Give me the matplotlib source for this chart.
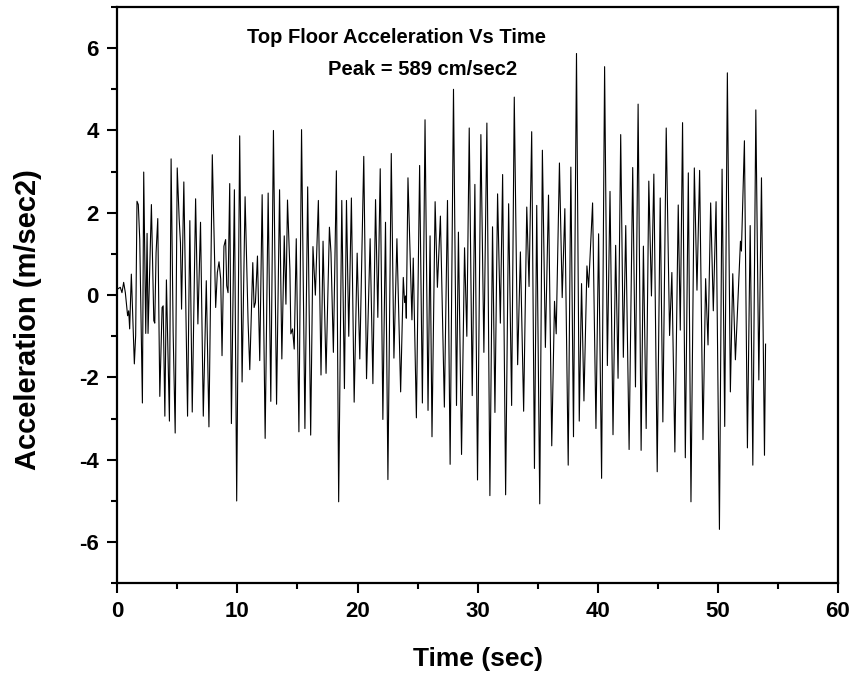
""" Top floor acceleration time history, redrawn from the reference chart.
"""
import matplotlib
matplotlib.use("Agg")
import matplotlib.pyplot as plt
from matplotlib.ticker import MultipleLocator

# turning points of the record (time in sec, acceleration in m/sec2)
time_sec = [
    0.03, 0.25, 0.39, 0.53, 0.67, 0.86, 0.95, 1.03, 1.17, 1.42, 1.53, 1.64, 1.75, 1.87,
    2.09, 2.20, 2.37, 2.48, 2.56, 2.70, 2.84, 3.04, 3.12, 3.23, 3.37, 3.54, 3.73, 3.82,
    3.96, 4.09, 4.34, 4.48, 4.65, 4.82, 4.99, 5.15, 5.26, 5.35, 5.54, 5.85, 6.04, 6.24,
    6.52, 6.71, 6.93, 7.16, 7.41, 7.63, 7.91, 8.19, 8.33, 8.47, 8.61, 8.72, 8.88, 9.02,
    9.11, 9.22, 9.36, 9.50, 9.75, 9.94, 10.19,
    10.39, 10.64, 10.89, 11.03, 11.28, 11.39, 11.50, 11.67, 11.86, 12.06, 12.31, 12.56,
    12.78, 13.00, 13.26, 13.51, 13.70, 13.90, 14.04, 14.17, 14.37, 14.45, 14.59, 14.73,
    14.90, 15.12, 15.34, 15.62, 15.85, 16.10, 16.29, 16.49, 16.74, 16.96, 17.13, 17.38,
    17.66, 17.79, 17.99, 18.24, 18.43, 18.69, 18.91, 19.08, 19.27, 19.49, 19.72, 19.97,
    20.19,
    20.52, 20.75, 21.05, 21.28, 21.50, 21.69, 21.89, 22.11, 22.33, 22.53, 22.81, 23.03,
    23.28, 23.59, 23.81, 23.92, 24.00, 24.06, 24.20, 24.39, 24.53, 24.64, 24.90, 25.17,
    25.40, 25.62, 25.87, 26.04, 26.20, 26.46, 26.65, 26.90, 27.23, 27.49, 27.71, 27.99,
    28.24, 28.40, 28.66, 28.91, 29.10, 29.30, 29.55, 29.77, 29.99, 30.27,
    30.52, 30.77, 31.02, 31.24, 31.44, 31.66, 31.89, 32.08, 32.33, 32.58, 32.83, 33.05,
    33.33, 33.56, 33.83, 34.09, 34.28, 34.50, 34.73, 34.92, 35.17, 35.39, 35.64, 35.90,
    36.17, 36.40, 36.54, 36.81, 37.04, 37.26, 37.54, 37.76, 37.98, 38.23, 38.46, 38.65,
    38.85, 39.10, 39.24, 39.57, 39.85, 40.07, 40.32,
    40.57, 40.80, 41.02, 41.27, 41.49, 41.69, 41.91, 42.13, 42.33, 42.61, 42.91, 43.14,
    43.36, 43.61, 43.80, 44.03, 44.25, 44.47, 44.67, 44.95, 45.20, 45.42, 45.70, 45.98,
    46.17, 46.42, 46.70, 46.87, 47.06, 47.29, 47.54, 47.76, 48.04, 48.26, 48.48, 48.76,
    48.98, 49.18, 49.40, 49.62, 49.85, 50.13, 50.35,
    50.57, 50.79, 51.04, 51.24, 51.46, 51.88, 51.96, 52.21, 52.46, 52.69, 52.91, 53.16,
    53.41, 53.63, 53.88, 53.97,
]
accel = [
    0.15, 0.19, 0.06, 0.31, 0.06, -0.50, -0.38, -0.82, 0.51, -1.67, -0.98, 2.28, 2.20, 1.35,
    -2.62, 2.99, -0.93, 1.50, -0.93, 0.63, 2.20, -0.62, -0.68, 1.03, 1.86, -2.46, -0.30, -0.26,
    -2.94, 0.37, -3.06, 3.31, -0.90, -3.35, 3.09, 1.86, 1.27, -0.34, 2.75, -2.94, 1.81, -2.84,
    2.34, -0.70, 1.77, -2.94, 0.35, -3.20, 3.41, -0.30, 0.55, 0.81, 0.39, -1.47, 1.19, 1.35,
    0.23, 0.06, 2.71, -3.12, 2.56, -5.00, 3.87,
    -2.11, 2.39, -0.66, -1.81, 0.79, -0.30, -0.18, 0.95, -1.59, 2.44, -3.48, 2.48,
    -2.58, 4.00, -2.65, 2.56, -1.55, 1.44, -0.22, 2.31, 0.63, -0.94, -0.82, -1.31,
    1.37, -3.32, 4.02, -3.24, 2.63, -3.40, 1.18, 0.00, 2.30, -1.94, 1.31, -1.90,
    1.65, 1.03, -1.39, 3.02, -5.02, 2.30, -2.27, 2.30, -1.00, 2.36, -2.60, 1.02,
    -1.55,
    3.37, -2.03, 1.37, -2.15, 2.32, -0.54, 3.07, -3.02, 1.77, -4.48, 3.44, -1.53,
    1.37, -2.35, 0.43, -0.18, -0.02, -0.56, 2.85, 0.87, -0.60, 0.90, -2.98, 3.15,
    -2.62, 4.26, -2.80, 1.44, -3.44, 2.27, 0.19, 1.92, -2.72, 2.30, -4.11, 5.00,
    -2.68, 1.53, -3.87, 1.15, -1.00, 4.06, -2.44, 2.69, -4.49, 3.90,
    -1.39, 4.18, -4.87, 1.66, -2.85, 2.46, -0.68, 2.93, -4.85, 2.22, -2.68, 4.81,
    -1.69, 1.05, -2.82, 2.14, 0.21, 3.97, -4.21, 2.18, -5.07, 3.52, -1.27, 2.43,
    -3.66, -0.15, -0.94, 3.21, -0.06, 2.10, -4.13, 3.11, -3.44, 5.87, -3.06, 0.28,
    -2.57, 0.71, 0.19, 2.24, -3.24, 1.49, -4.45,
    5.55, -1.71, 2.52, -3.39, 1.21, -2.02, 3.90, -1.51, 1.69, -3.75, 3.10, -2.23,
    4.64, -3.77, 1.19, -3.24, 2.77, -0.02, 2.94, -4.29, 2.36, -3.08, 4.06, -0.98,
    0.55, -3.81, 2.19, -0.85, 4.19, -3.95, 2.97, -5.02, 3.09, 0.12, 3.03, -3.51,
    0.40, -1.21, 2.24, -0.38, 2.27, -5.69, 3.06,
    -3.19, 5.40, -2.35, 0.52, -1.57, 1.31, 1.07, 3.75, -3.71, 1.69, -4.13, 4.50,
    -2.06, 2.85, -3.89, -1.19,
]

title_lines = ["Top Floor Acceleration Vs Time", "Peak = 589 cm/sec2"]

plt.rcParams["font.family"] = ["Liberation Sans", "DejaVu Sans"]
plt.rcParams["font.weight"] = "bold"
plt.rcParams["axes.unicode_minus"] = False  # plain hyphen like the original

fig = plt.figure(figsize=(8.53, 6.77), dpi=100)
ax = fig.add_axes([0.1375, 0.1384, 0.8449, 0.8513])

ax.plot(time_sec, accel, color="black", linewidth=0.8)

ax.set_xlim(0, 60)
ax.set_ylim(-7, 7)
ax.xaxis.set_major_locator(MultipleLocator(10))
ax.xaxis.set_minor_locator(MultipleLocator(5))
ax.yaxis.set_major_locator(MultipleLocator(2))
ax.yaxis.set_minor_locator(MultipleLocator(1))
ax.tick_params(which="major", direction="out", length=7.5, width=1.5, labelsize=16)
ax.tick_params(axis="x", which="major", pad=5)
ax.tick_params(axis="y", which="major", pad=6)
ax.tick_params(which="minor", direction="out", length=4, width=1.5)
for lbl in ax.get_xticklabels() + ax.get_yticklabels():
    lbl.set_fontweight("bold")
for sp in ax.spines.values():
    sp.set_linewidth(1.6)

ax.set_xlabel("Time (sec)", fontsize=19, fontweight="bold", va="center")
ax.xaxis.set_label_coords(0.5, -0.131)
ax.set_ylabel("Acceleration (m/sec2)", fontsize=21, fontweight="bold", va="center")
ax.yaxis.set_label_coords(-0.124, 0.457)

ax.text(23.25, 6.12, title_lines[0], fontsize=14.5, fontweight="bold", ha="center", va="baseline")
ax.text(25.45, 5.35, title_lines[1], fontsize=14.5, fontweight="bold", ha="center", va="baseline")

fig.savefig("out.png", dpi=100)
